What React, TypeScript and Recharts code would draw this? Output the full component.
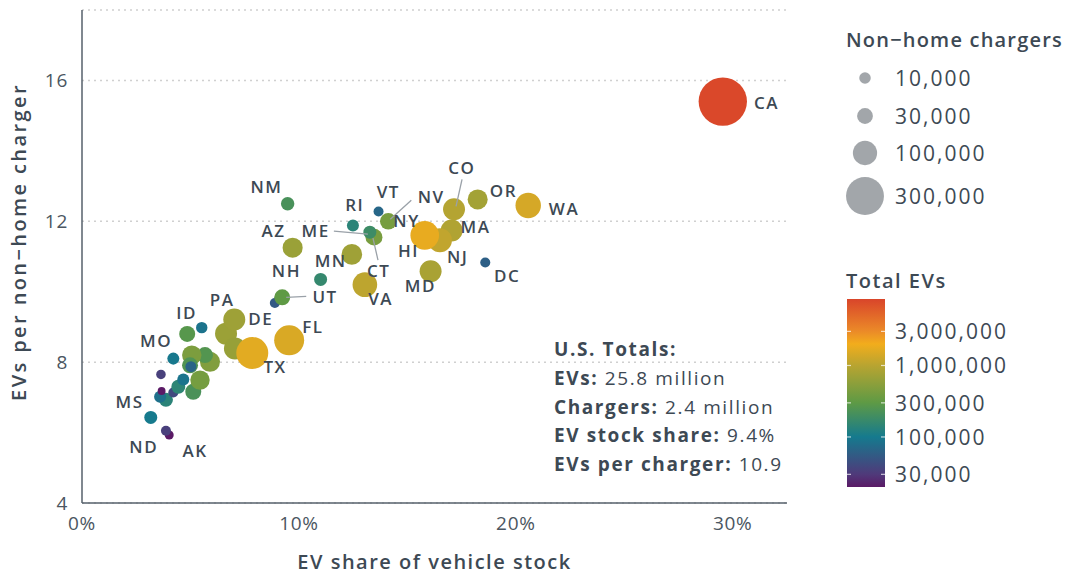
import React from "react";
import { ScatterChart, Scatter, XAxis, YAxis, CartesianGrid } from "recharts";

// drawing order: first listed is drawn underneath
const states = [
  "AK", "ND", "MS", "OK", "AR", "WV", "SD", "WY", "IN", "AL", "IA", "OH", "MI", "WI", "GA", "SC", "KS", "NE",
  "MO", "ID", "IL", "NC", "DE", "PA", "TX", "FL", "MT", "UT", "NH", "VA", "MN", "AZ", "NM", "CT", "ME", "RI",
  "VT", "NV", "MD", "DC", "MA", "NJ", "HI", "NY", "CO", "OR", "WA", "CA",
];
// EV share of vehicle stock, %
const evShare = [
  4.02, 3.87, 3.17, 3.87, 3.6, 4.21, 3.67, 3.64, 5.13, 4.44, 4.67, 5.44, 5.9, 5.67, 5.06, 4.98, 5.02, 4.21,
  4.85, 5.52, 6.64, 7.05, 7.1, 7.02, 7.85, 9.55, 8.89, 9.23, 11.0, 13.04, 12.44, 9.71, 9.48, 13.46, 13.27, 12.49,
  13.67, 14.12, 16.07, 18.59, 17.04, 16.5, 15.71, 15.8, 17.15, 18.24, 20.57, 29.54,
];
// EVs per non-home charger
const evsPerCharger = [
  5.93, 6.05, 6.43, 6.93, 7.02, 7.14, 7.18, 7.65, 7.16, 7.3, 7.51, 7.49, 8.01, 8.2, 8.2, 7.91, 7.87, 8.1,
  8.8, 8.98, 8.81, 8.39, 9.15, 9.21, 8.26, 8.62, 9.68, 9.84, 10.35, 10.2, 11.06, 11.25, 12.5, 11.55, 11.69, 11.88,
  12.28, 12.0, 10.58, 10.83, 11.74, 11.46, 11.55, 11.6, 12.34, 12.62, 12.45, 15.4,
];
// non-home chargers, thousands
const chargersK = [
  3.3, 5.6, 15.7, 20, 11.8, 5.6, 1.5, 4.5, 31, 20, 11.8, 55, 60, 31, 55, 31, 8.4, 11.8,
  31, 9.7, 77, 77, 3, 77, 200, 171, 5.6, 31, 15.7, 104, 65, 60, 17.5, 37, 15.7, 11.8,
  5.6, 35, 77, 5.6, 77, 97, 20, 152, 77, 60, 113, 525,
];

const xTicks = [0, 10, 20, 30];
const yTicks = [4, 8, 12, 16];
const sizeLegend = [10000, 30000, 100000, 300000];
const colorLegend = [3000000, 1000000, 300000, 100000, 30000];

// label offsets from the bubble centre (px); optional leader line [x1, y1, x2, y2]
const labelOffset: Record<string, number[]> = {
  CA: [43, 1], WA: [35, 3], OR: [25, -9], CO: [7, -42, 8, -30, 2, -3], MA: [23, -4], NJ: [17, 16],
  NY: [-19, -15], HI: [-15, 13], MD: [-11, 14], DC: [21, 13], NV: [42, -25, 23, -21, 2, -2],
  VT: [9, -20], RI: [1, -21], ME: [-55, -2, -36, -1, -2, 2], CT: [4, 33, 4, 23, -1, 1],
  NM: [-22, -17], AZ: [-20, -17], MN: [-22, 6], NH: [-35, -9], VA: [15, 14], UT: [42, -1, 24, -1, 4, 0],
  PA: [-13, -20], DE: [24, -3], FL: [23, -14], TX: [22, 14], ID: [-16, -15], MO: [-32, 7],
  MS: [-22, -16], ND: [-23, 16], AK: [25, 15],
};

const points = states.map((s, i) => ({
  state: s,
  share: evShare[i],
  ratio: evsPerCharger[i],
  chargers: chargersK[i] * 1000,
}));

const FONT = "'Open Sans', sans-serif";
const TEXT = "#3d4954";

const radius = (v: number) => 2.8 + 0.0295 * Math.sqrt(v);

const stopLog = [4.3, 4.48, 5.0, 5.48, 6.0, 6.3, 6.48, 6.93];
const stopHex = ["#5b1a66", "#4f3a7a", "#157a8e", "#5e9a45", "#b8a431", "#f2ad1c", "#eb8a28", "#d9452a"];
const LOG_LO = stopLog[0];
const LOG_HI = stopLog[stopLog.length - 1];

function hexToRgb(h: string) {
  return [1, 3, 5].map((i) => parseInt(h.slice(i, i + 2), 16));
}

function evColor(total: number) {
  const t = Math.min(LOG_HI, Math.max(LOG_LO, Math.log10(total)));
  for (let i = 0; i < stopLog.length - 1; i++) {
    if (t <= stopLog[i + 1]) {
      const f = (t - stopLog[i]) / (stopLog[i + 1] - stopLog[i]);
      const a = hexToRgb(stopHex[i]);
      const b = hexToRgb(stopHex[i + 1]);
      const c = a.map((v, k) => Math.round(v + (b[k] - v) * f));
      return `rgb(${c[0]},${c[1]},${c[2]})`;
    }
  }
  return stopHex[stopHex.length - 1];
}

const Bubble = (props: any) => {
  const { cx, cy, payload } = props;
  return (
    <circle
      cx={cx}
      cy={cy}
      r={radius(payload.chargers)}
      fill={evColor(payload.chargers * payload.ratio)}
    />
  );
};

const StateLabel = (props: any) => {
  const { cx, cy, payload } = props;
  const o = labelOffset[payload.state];
  if (!o) return <g />;
  return (
    <g>
      {o.length > 2 && (
        <line x1={cx + o[2]} y1={cy + o[3]} x2={cx + o[4]} y2={cy + o[5]} stroke="#9aa1a8" strokeWidth={1.3} />
      )}
      <text
        x={cx + o[0] + 0.8}
        y={cy + o[1]}
        textAnchor="middle"
        dominantBaseline="central"
        fontSize={17}
        fontWeight={600}
        letterSpacing={1.5}
        fill={TEXT}
        fontFamily={FONT}
      >
        {payload.state}
      </text>
    </g>
  );
};

const YTitle = () => (
  <text
    x={18}
    y={242}
    transform="rotate(-90 18 242)"
    textAnchor="middle"
    dominantBaseline="central"
    fontSize={20}
    fontWeight={600}
    letterSpacing={2.4}
    fill={TEXT}
    fontFamily={FONT}
  >
    EVs per non−home charger
  </text>
);

const XTitle = (props: any) => {
  const vb = props.viewBox;
  return (
    <text
      x={vb.x + vb.width / 2}
      y={561}
      textAnchor="middle"
      dominantBaseline="central"
      fontSize={20}
      fontWeight={600}
      letterSpacing={1.5}
      fill={TEXT}
      fontFamily={FONT}
    >
      EV share of vehicle stock
    </text>
  );
};

const fmt = (n: number) => n.toLocaleString("en-US");

function Legends() {
  const barTop = 299;
  const barH = 188;
  const yOf = (v: number) => barTop + ((LOG_HI - Math.log10(v)) / (LOG_HI - LOG_LO)) * barH;
  const sizeY = [78, 116, 153, 196];
  const totals = [
    ["U.S. Totals:", ""],
    ["EVs: ", "25.8 million"],
    ["Chargers: ", "2.4 million"],
    ["EV stock share: ", "9.4%"],
    ["EVs per charger: ", "10.9"],
  ];
  return (
    <svg
      width={1065}
      height={574}
      style={{ position: "absolute", left: 0, top: 0, pointerEvents: "none" }}
      fontFamily={FONT}
    >
      <defs>
        <linearGradient id="evbar" x1="0" y1="1" x2="0" y2="0">
          {stopLog.map((l, i) => (
            <stop key={i} offset={(l - LOG_LO) / (LOG_HI - LOG_LO)} stopColor={stopHex[i]} />
          ))}
        </linearGradient>
      </defs>
      {totals.map((t, i) => (
        <text
          key={i}
          x={554}
          y={349 + i * 28.8}
          dominantBaseline="central"
          fontSize={19}
          letterSpacing={1.6}
          fill={TEXT}
        >
          <tspan fontWeight={700}>{t[0]}</tspan>
          <tspan fontWeight={400}>{t[1]}</tspan>
        </text>
      ))}
      <text x={846} y={39} dominantBaseline="central" fontSize={20} fontWeight={600} letterSpacing={1.2} fill={TEXT}>
        Non−home chargers
      </text>
      {sizeLegend.map((v, i) => (
        <g key={v}>
          <circle cx={865} cy={sizeY[i]} r={radius(v)} fill="#a2a6aa" />
          <text x={895} y={sizeY[i]} dominantBaseline="central" fontSize={21} letterSpacing={2} fill={TEXT}>
            {fmt(v)}
          </text>
        </g>
      ))}
      <text x={846} y={280} dominantBaseline="central" fontSize={20} fontWeight={600} letterSpacing={1.5} fill={TEXT}>
        Total EVs
      </text>
      <rect x={847} y={barTop} width={38} height={barH} fill="url(#evbar)" />
      {colorLegend.map((v) => (
        <g key={v}>
          <line x1={847} x2={851} y1={yOf(v)} y2={yOf(v)} stroke="#ffffff" strokeOpacity={0.7} strokeWidth={1.2} />
          <line x1={881} x2={885} y1={yOf(v)} y2={yOf(v)} stroke="#ffffff" strokeOpacity={0.7} strokeWidth={1.2} />
          <text x={895} y={yOf(v)} dominantBaseline="central" fontSize={21} letterSpacing={2} fill={TEXT}>
            {fmt(v)}
          </text>
        </g>
      ))}
    </svg>
  );
}

export default function App() {
  return (
    <div style={{ position: "absolute", left: 0, top: 0, width: 1065, height: 574, background: "#fff", fontFamily: FONT }}>
      <ScatterChart width={800} height={574} margin={{ top: 10, right: 13, bottom: 0, left: 0 }}>
        <CartesianGrid vertical={false} stroke="#d0d0d0" strokeWidth={1.5} strokeDasharray="2 4" />
        <XAxis
          type="number"
          dataKey="share"
          domain={[0, 32.5]}
          ticks={xTicks}
          tickFormatter={(v) => `${v}%`}
          height={71}
          tickSize={0}
          tickMargin={14}
          axisLine={{ stroke: "#56616b", strokeWidth: 1.5 }}
          tick={{ fill: "#4b5661", fontSize: 19, fontFamily: FONT, letterSpacing: 0.7 }}
          label={<XTitle />}
        />
        <YAxis
          type="number"
          dataKey="ratio"
          domain={[4, 18]}
          ticks={yTicks}
          width={82}
          tickSize={0}
          tickMargin={14}
          axisLine={{ stroke: "#56616b", strokeWidth: 1.5 }}
          tick={{ fill: "#4b5661", fontSize: 19, fontFamily: FONT, letterSpacing: 0.7 }}
          label={<YTitle />}
        />
        <Scatter data={points} shape={Bubble} isAnimationActive={false} />
        <Scatter data={points} shape={StateLabel} isAnimationActive={false} />
      </ScatterChart>
      <Legends />
    </div>
  );
}
